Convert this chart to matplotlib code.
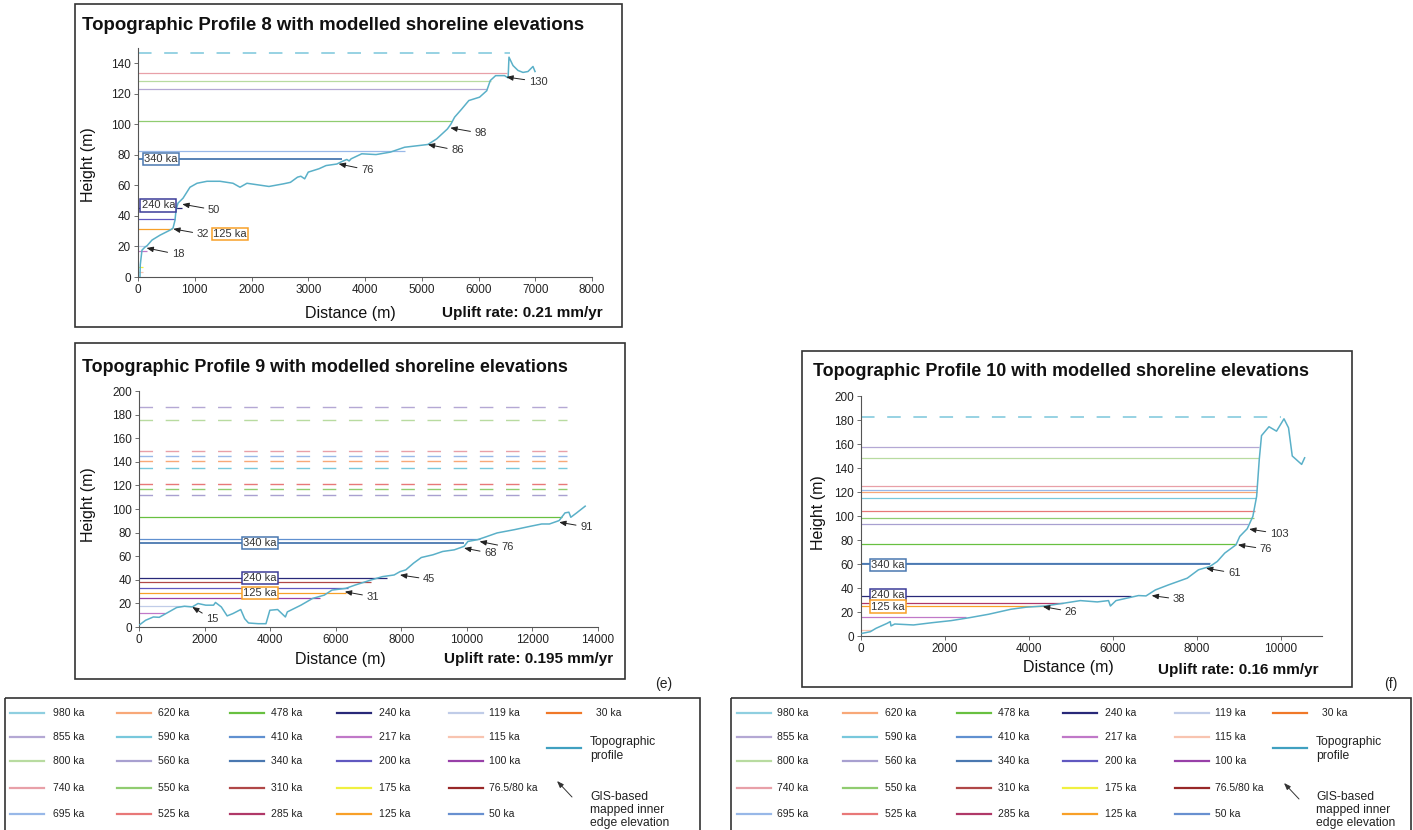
import matplotlib.pyplot as plt
from matplotlib.patches import Rectangle

plt.rcParams['font.family'] = ['Liberation Sans', 'DejaVu Sans']

W, H = 1413, 830

# legend palette (age in ka -> colour)
pal = {
    '980': '#8fcfe0', '855': '#b4a8d4', '800': '#b8dba0', '740': '#e8a0a8', '695': '#98b8e8',
    '620': '#f8a878', '590': '#78c8dc', '560': '#a8a0d0', '550': '#90cc70', '525': '#e87878',
    '478': '#68c040', '410': '#6090d0', '340': '#4a78b0', '310': '#b04848', '285': '#b03868',
    '240': '#282878', '217': '#c078c8', '200': '#6058c0', '175': '#f0f040', '125': '#f8a028',
    '119': '#c0cce8', '115': '#f8c4b0', '100': '#9840a8', '76.5/80': '#982828', '50': '#6890d0',
    '30': '#f07828',
}
legend_cols = [
    ['980', '855', '800', '740', '695'],
    ['620', '590', '560', '550', '525'],
    ['478', '410', '340', '310', '285'],
    ['240', '217', '200', '175', '125'],
    ['119', '115', '100', '76.5/80', '50'],
    ['30'],
]
profile_color = '#5ab0c8'
box_edge = {'340 ka': '#4a78b0', '240 ka': '#3c3c98', '125 ka': '#f8a028'}

# ---- Profile 8
p8_dist = [35, 40, 70, 123, 160, 247, 388, 564, 617, 652, 670, 705, 793, 916, 1040, 1216, 1445, 1674,
           1797, 1920, 1994, 2308, 2560, 2686, 2811, 2870, 2937, 3000, 3189, 3314, 3503, 3597, 3680,
           3720, 3755, 3943, 4195, 4447, 4698, 4950, 5107, 5264, 5453, 5516, 5579, 5704, 5830, 6019,
           6145, 6208, 6302, 6459, 6522, 6537, 6608, 6696, 6784, 6872, 6960, 6996]
p8_height = [0, 8, 17.6, 19.6, 20.5, 24.2, 27.4, 30.7, 32, 37.2, 43.8, 48.4, 51.6, 58.8, 61.4, 62.7,
             62.7, 61.4, 58.8, 61.4, 61, 59.3, 61, 62, 65.4, 66, 64.3, 68.7, 70.9, 73, 74, 75.7, 77,
             76, 77.4, 80.7, 80.2, 81.8, 85, 86.1, 86.8, 90.5, 97, 100.3, 104.7, 110, 115.6, 117.8,
             122, 128.7, 131.9, 131.9, 130.4, 144, 138.5, 135.3, 134, 134.6, 137.9, 134.6]
p8_sl_h = [146.7, 133.3, 128.2, 123.2, 102, 82.6, 77.5, 45, 37.9, 31.4, 20.3, 17, 6.8, 3.5]
p8_sl_end = [6555, 6500, 6220, 6150, 5540, 4700, 3600, 775, 650, 600, 160, 150, 90, 90]
p8_sl_age = ['980', '740', '800', '855', '550', '695', '340', '240', '200', '125', '119', '217', '175', '115']
p8_sl_dash = [True] + [False] * 13
p8_boxes = [('340 ka', 405, 77.4), ('240 ka', 358, 46.9), ('125 ka', 1625, 28)]
p8_notes = [('18', 704, 14.8, 150, 19), ('32', 1145, 28, 620, 31.5), ('50', 1340, 44, 780, 47.7),
            ('76', 4040, 70.2, 3535, 74.1), ('86', 5630, 82.9, 5107, 86.8),
            ('98', 6040, 94.2, 5503, 97.7), ('130', 7050, 128, 6490, 131)]

# ---- Profile 9
p9_dist = [24, 201, 438, 616, 912, 1149, 1386, 1623, 1800, 2037, 2274, 2333, 2511, 2689, 2866, 3103,
           3222, 3340, 3636, 3873, 3991, 4228, 4465, 4524, 4939, 5294, 5650, 5887, 6302, 6598, 7072,
           7427, 7782, 7959, 8137, 8374, 8611, 8966, 9262, 9617, 9913, 10032, 10328, 10624, 10920,
           11453, 11927, 12282, 12519, 12815, 12993, 13111, 13171, 13348, 13609]
p9_height = [2, 5.7, 8.5, 8.2, 12.8, 16.5, 17.6, 17, 19.9, 18.5, 18.5, 20.8, 17, 9.4, 11.4, 14.8,
             7.1, 3.4, 2.8, 2.8, 14.2, 14.8, 8.5, 12.8, 18.5, 24.2, 27, 31.3, 32.7, 35.6, 39.8,
             42.7, 44.1, 46.9, 48.4, 54.1, 58.9, 61.2, 64, 65.4, 68.3, 72.5, 74, 76.8, 79.7,
             82.5, 85.3, 87.3, 87.3, 90.2, 96.7, 97.3, 93, 96.7, 102.4]
p9_sl_h = [186.3, 175.5, 148.8, 144.8, 140.3, 134.6, 121.5, 116.6, 111.5,
           93, 74.5, 71.1, 41.8, 38.4, 33.3, 28.5, 24.8, 18, 12]
p9_sl_end = [13050] * 9 + [12900, 10400, 9900, 7550, 7070, 6360, 6300, 5530, 1600, 800]
p9_sl_age = ['855', '800', '740', '695', '620', '590', '525', '550', '560',
             '478', '410', '340', '240', '310', '200', '125', '100', '119', '217']
p9_sl_dash = [True] * 9 + [False] * 10
p9_boxes = [('340 ka', 3680, 71.1), ('240 ka', 3680, 41.8), ('125 ka', 3680, 28.5)]
p9_notes = [('15', 2238, 6.5, 1623, 17), ('31', 7130, 25.6, 6277, 29.9), ('45', 8848, 40.4, 7959, 44.1),
            ('68', 10719, 62.6, 9913, 66.9), ('76', 11252, 67.7, 10387, 72.5),
            ('91', 13644, 84.8, 12815, 88.8)]

# ---- Profile 10
p10_dist = [27, 223, 357, 625, 696, 714, 804, 1250, 1696, 2143, 2589, 3036, 3571, 3929, 4375, 4821,
            5223, 5625, 5893, 5938, 6071, 6429, 6607, 6786, 7009, 7321, 7768, 8036, 8304, 8482, 8661,
            8929, 9018, 9196, 9330, 9420, 9482, 9536, 9714, 9893, 10071, 10179, 10268, 10491, 10563]
p10_height = [2.2, 3.6, 6.4, 10.6, 12, 8.4, 10, 9.2, 11.1, 12.8, 15.3, 18.1, 22.3, 24, 25, 27.3,
              29.5, 28.4, 29.5, 25, 29.5, 32.3, 33.7, 33.4, 38.4, 42.6, 48.2, 55.2, 57.9, 62.1, 69.1,
              76, 83, 89.4, 99.7, 116.4, 147, 167, 174.4, 170.7, 181, 173.5, 150, 143, 148.5]
p10_sl_h = [182.4, 157.4, 148.5, 124.8, 122, 119.8, 115, 104.5, 98.3, 93.3, 76.6, 60.7, 60,
            33.4, 27.3, 25.1, 15.6, 5]
p10_sl_end = [10000, 9480, 9480, 9420, 9420, 9420, 9410, 9390, 9350, 9220, 8930, 8300, 8300,
              6430, 4820, 4380, 2500, 270]
p10_sl_age = ['980', '855', '800', '740', '695', '620', '590', '525', '550', '560', '478', '410', '340',
              '240', '285', '125', '217', '115']
p10_sl_dash = [True] + [False] * 17
p10_boxes = [('340 ka', 648, 59.3), ('240 ka', 648, 34.3), ('125 ka', 648, 24.5)]
p10_notes = [('26', 5000, 20.3, 4330, 24.5), ('38', 7571, 30.6, 6920, 33.7), ('61', 8884, 52.4, 8214, 56.5),
             ('76', 9643, 72.4, 8973, 76), ('103', 9955, 85.2, 9241, 89.1)]


def px_rect(x0, y0, x1, y1):
    return [x0 / W, 1 - y1 / H, (x1 - x0) / W, (y1 - y0) / H]


def draw_profile(ax, dist, height, sl_h, sl_end, sl_age, sl_dash, boxes, notes,
                 xlim, ylim, xtick_max, xstep, ytick_max, dash_lw):
    for h, e, a, d in zip(sl_h, sl_end, sl_age, sl_dash):
        if d:
            ax.hlines(h, 0, e, colors=pal[a], lw=dash_lw, linestyles=(0, (7.5 * 1.3 / dash_lw, 7 * 1.3 / dash_lw)))
        else:
            ax.hlines(h, 0, e, colors=pal[a], lw=1.3 if a == '340' else 0.9)
    ax.plot(dist, height, color=profile_color, lw=1.1, zorder=3)
    for txt, x, y in boxes:
        ax.text(x, y, txt, fontsize=8, color='#333', ha='center', va='center', zorder=4,
                bbox=dict(boxstyle='square,pad=0.1', fc='white', ec=box_edge[txt], lw=1.1))
    for txt, tx, ty, x, y in notes:
        ax.annotate(txt, xy=(x, y), xytext=(tx, ty), fontsize=8, color='#333', ha='center', va='center',
                    zorder=5, arrowprops=dict(arrowstyle='-|>,head_length=0.5,head_width=0.2',
                                              color='#222', lw=0.7, shrinkA=1, shrinkB=0))
    ax.set_xlim(0, xlim)
    ax.set_ylim(0, ylim)
    ax.set_xticks(range(0, xtick_max + 1, xstep))
    ax.set_yticks(range(0, ytick_max + 1, 20))
    for s in ['top', 'right']:
        ax.spines[s].set_visible(False)
    for s in ['left', 'bottom']:
        ax.spines[s].set_color('#555')
        ax.spines[s].set_linewidth(0.8)
    ax.tick_params(length=3, width=0.6, color='#555', labelsize=8.5, labelcolor='#222', pad=2)
    ax.set_facecolor('none')


fig = plt.figure(figsize=(W / 100, H / 100), dpi=100)
ov = fig.add_axes([0, 0, 1, 1])
ov.set_xlim(0, W)
ov.set_ylim(H, 0)
ov.axis('off')

# panel frames
for x0, y0, x1, y1 in [(75, 4, 622, 327), (75, 343, 625, 679), (802, 351, 1352, 687),
                       (5, 698, 700, 840), (731, 698, 1411, 840)]:
    ov.add_patch(Rectangle((x0, y0), x1 - x0, y1 - y0, fill=False, ec='#333', lw=1.2))

ax8 = fig.add_axes(px_rect(138, 48, 592, 277))
draw_profile(ax8, p8_dist, p8_height, p8_sl_h, p8_sl_end, p8_sl_age, p8_sl_dash, p8_boxes, p8_notes,
             8000, 150, 8000, 1000, 140, 1.3)
ax9 = fig.add_axes(px_rect(139, 391, 598, 627))
draw_profile(ax9, p9_dist, p9_height, p9_sl_h, p9_sl_end, p9_sl_age, p9_sl_dash, p9_boxes, p9_notes,
             14000, 200, 14000, 2000, 200, 1.0)
ax10 = fig.add_axes(px_rect(861, 396, 1322, 636))
draw_profile(ax10, p10_dist, p10_height, p10_sl_h, p10_sl_end, p10_sl_age, p10_sl_dash, p10_boxes,
             p10_notes, 10976, 200, 10000, 2000, 200, 1.3)

titles = [('Topographic Profile 8 with modelled shoreline elevations', 82, 25, 13.4),
          ('Topographic Profile 9 with modelled shoreline elevations', 82, 367, 12.9),
          ('Topographic Profile 10 with modelled shoreline elevations', 813, 371, 12.9)]
for t, x, y, fs in titles:
    ov.text(x, y, t, fontsize=fs, fontweight='bold', ha='left', va='center', color='#111')

for x, y in [(88, 165), (89, 505), (818, 513)]:
    ov.text(x, y, 'Height (m)', fontsize=11.5, rotation=90, ha='center', va='center', color='#111')
for x, y in [(350, 313), (340, 659), (1068, 667)]:
    ov.text(x, y, 'Distance (m)', fontsize=11.5, ha='center', va='center', color='#111')
for t, x, y in [('Uplift rate: 0.21 mm/yr', 603, 313), ('Uplift rate: 0.195 mm/yr', 613, 659),
                ('Uplift rate: 0.16 mm/yr', 1318, 670)]:
    ov.text(x, y, t, fontsize=11, fontweight='bold', ha='right', va='center', color='#111')
ov.text(664, 684, '(e)', fontsize=10, ha='center', va='center', color='#222')
ov.text(1391, 684, '(f)', fontsize=10, ha='center', va='center', color='#222')

legend_rows = [713, 737, 761, 788, 814]


def draw_legend(line_x, text_x, arrow_tip):
    for c, col in enumerate(legend_cols):
        for r, age in enumerate(col):
            y = legend_rows[r]
            ov.plot([line_x[c], line_x[c] + 34], [y, y], color=pal[age], lw=1.6)
            ov.text(text_x[c], y, age + ' ka', fontsize=7.5, ha='left', va='center', color='#222')
    ov.plot([line_x[5], line_x[5] + 34], [748, 748], color='#40a0c0', lw=1.6)
    ov.text(text_x[5] - 6, 749, 'Topographic\nprofile', fontsize=8.7, ha='left', va='center',
            color='#222', linespacing=1.25)
    ov.annotate('', xy=arrow_tip, xytext=(arrow_tip[0] + 15, arrow_tip[1] + 16),
                arrowprops=dict(arrowstyle='-|>,head_length=0.4,head_width=0.15', color='#333', lw=0.7,
                                shrinkA=0, shrinkB=0))
    ov.text(text_x[5] - 6, 810, 'GIS-based\nmapped inner\nedge elevation', fontsize=8.7, ha='left',
            va='center', color='#222', linespacing=1.15)


draw_legend([10, 117, 230, 337, 449, 547], [53, 158, 271, 379, 489, 596], (557, 781))
draw_legend([737, 843, 957, 1063, 1175, 1273], [777, 885, 998, 1105, 1215, 1322], (1284, 783))

fig.savefig('out.png', dpi=100)
